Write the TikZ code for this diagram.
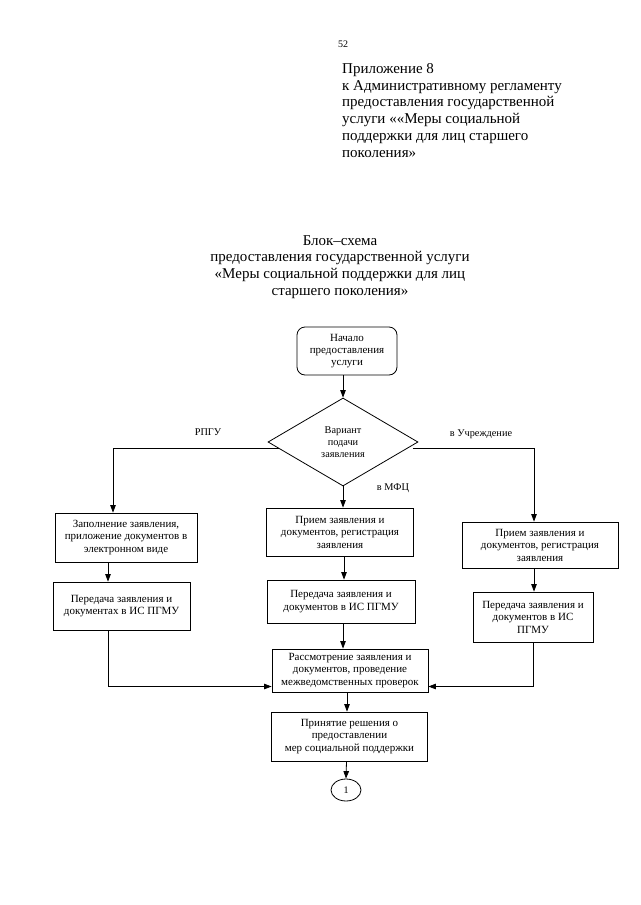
\documentclass[tikz,border=0pt]{standalone}
\usepackage{fontspec}
\setmainfont{Liberation Serif}
\usetikzlibrary{shapes.geometric,arrows.meta}
\begin{document}
\begin{tikzpicture}[x=1pt,y=-1pt,
  box/.style={draw, line width=0.8pt, align=center, inner sep=2pt, font=\fontsize{11}{12.5}\selectfont},
  lbl/.style={font=\fontsize{10.3}{12}\selectfont, inner sep=0pt},
  arr/.style={line width=0.8pt, -{Triangle[length=7.5pt,width=5.5pt]}},
  ln/.style={line width=0.8pt}]
\useasboundingbox (0,0) rectangle (640,905);
\fill[white] (0,0) rectangle (640,905);
% header
\node[font=\fontsize{10}{12}\selectfont, inner sep=0pt] (pg) at (343,44) {52};
\node[anchor=north west, align=left, inner sep=0pt, font=\fontsize{15}{16.9}\selectfont] (hdr) at (342,63)
 {Приложение 8\\к Административному регламенту\\предоставления государственной\\услуги ««Меры социальной\\поддержки для лиц старшего\\поколения»};
\node[anchor=north, align=center, inner sep=0pt, font=\fontsize{15}{16.8}\selectfont] (ttl) at (340,235)
 {Блок–схема\\предоставления государственной услуги\\«Меры социальной поддержки для лиц\\старшего поколения»};
% flowchart
\node[box, rounded corners=8pt, minimum width=100pt, minimum height=48pt, font=\fontsize{11}{12}\selectfont] (start) at (347,351)
 {Начало\\предоставления\\услуги};
\node[draw, line width=0.8pt, diamond, inner sep=0pt, minimum width=150pt, minimum height=88pt, align=center, font=\fontsize{10.3}{11.7}\selectfont] (dec) at (343,442)
 {Вариант\\подачи\\заявления};
\node[box, minimum width=142pt, minimum height=49pt] (L1) at (126,537.5)
 {Заполнение заявления,\\приложение документов в\\электронном виде};
\node[box, minimum width=137pt, minimum height=48pt] (L2) at (121.5,606)
 {Передача заявления и\\документах в ИС ПГМУ};
\node[box, minimum width=147pt, minimum height=48pt] (M1) at (340,532)
 {Прием заявления и\\документов, регистрация\\заявления};
\node[box, minimum width=148pt, minimum height=43pt] (M2) at (341,601.5)
 {Передача заявления и\\документов в ИС ПГМУ};
\node[box, minimum width=156pt, minimum height=46pt] (R1) at (540,545)
 {Прием заявления и\\документов, регистрация\\заявления};
\node[box, minimum width=120pt, minimum height=50pt] (R2) at (533,617)
 {Передача заявления и\\документов в ИС\\ПГМУ};
\node[box, minimum width=156pt, minimum height=43pt] (C1) at (350,670.5)
 {Рассмотрение заявления и\\документов, проведение\\межведомственных проверок};
\node[box, minimum width=156pt, minimum height=49pt] (C2) at (349.5,736.5)
 {Принятие решения о\\предоставлении\\мер социальной поддержки};
\node[draw, line width=0.8pt, ellipse, minimum width=30pt, minimum height=22pt, inner sep=0pt, font=\fontsize{10}{12}\selectfont] (E) at (346,790) {1};
% labels
\node[lbl] (lr) at (208,432) {РПГУ};
\node[lbl] (lu) at (481,434) {в Учреждение};
\node[lbl] (lm) at (393,488) {в МФЦ};
% connectors
\draw[arr] (start.south -| dec.north) -- (dec.north);
\draw[arr] (dec.186) -| ([xshift=-13pt]L1.north);
\draw[arr] ([xshift=6pt]dec.354) -| ([xshift=-6pt]R1.north);
\draw[arr] (dec.south) -- (dec.south |- M1.north);
\draw[arr] ([xshift=-18pt]L1.south) -- ([xshift=-18pt]L1.south |- L2.north);
\draw[arr] ([xshift=4pt]M1.south) -- ([xshift=4pt]M1.south |- M2.north);
\draw[arr] ([xshift=-6pt]R1.south) -- ([xshift=-6pt]R1.south |- R2.north);
\draw[arr] ([xshift=-13.5pt]L2.south) |- ([yshift=-16pt]C1.west);
\draw[arr] (R2.south) |- ([yshift=-16pt]C1.east);
\draw[arr] ([xshift=2pt]M2.south) -- ([xshift=2pt]M2.south |- C1.north);
\draw[arr] ([xshift=-3pt]C1.south) -- ([xshift=-3pt]C1.south |- C2.north);
\draw[arr] ([xshift=-3pt]C2.south) -- (E.north);
\end{tikzpicture}
\end{document}
